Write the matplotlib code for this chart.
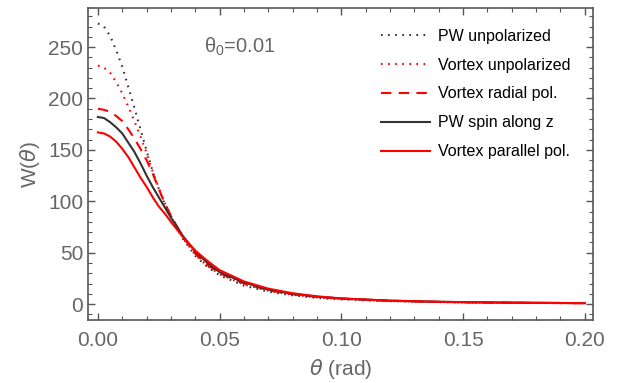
import matplotlib
matplotlib.use("Agg")
import matplotlib.pyplot as plt
from matplotlib.ticker import MultipleLocator

plt.rcParams['font.family'] = ['Liberation Sans', 'DejaVu Sans']
plt.rcParams['mathtext.fontset'] = 'dejavusans'

# angle grid (rad)
theta = [0, 0.0025, 0.005, 0.0075, 0.01, 0.0125, 0.015, 0.0175, 0.02, 0.0225,
         0.025, 0.0275, 0.03, 0.035, 0.04, 0.045, 0.05, 0.06, 0.07, 0.08,
         0.09, 0.1, 0.12, 0.14, 0.16, 0.18, 0.2]

pw_unpol = [273, 270, 261, 247, 231, 211, 191, 170, 149, 129,
            112, 97, 85, 63, 47, 36, 28, 18, 12, 8.5,
            6, 4.5, 2.8, 1.9, 1.3, 1.0, 0.8]
vortex_unpol = [232, 230, 225, 216, 205, 192, 178, 163, 147, 129,
                113, 98, 86, 64, 48, 37, 29, 19, 13, 9,
                6.5, 5, 3, 2, 1.4, 1.1, 0.9]
vortex_radial = [190, 189, 187, 183, 178, 170, 161, 151, 140, 127,
                 112, 98, 86, 65, 49, 38, 30, 20, 13.5, 9.5,
                 7, 5.2, 3.2, 2.1, 1.5, 1.1, 0.9]
pw_spin_z = [182, 181, 177, 172, 166, 157, 148, 137, 125, 114,
             104, 94, 84, 66, 51, 40, 31, 21, 14, 10,
             7.2, 5.4, 3.3, 2.2, 1.6, 1.2, 0.9]
vortex_parallel = [167, 166, 163, 158, 151, 143, 133, 123, 114, 104,
                   95, 88, 80, 65, 52, 42, 33, 22, 15, 10.5,
                   7.5, 5.5, 3.3, 2.2, 1.6, 1.2, 0.9]

grey = "#666666"
red = "#ff0000"
dark = "#333333"

fig = plt.figure(figsize=(6.28, 3.83), dpi=100)
ax = fig.add_axes([0.140, 0.1645, 0.804, 0.8145])

ax.plot(theta, pw_unpol, color=dark, lw=1.5, dashes=(0.8, 2.6), label="PW unpolarized")
ax.plot(theta, vortex_unpol, color=red, lw=1.5, dashes=(0.8, 2.6), label="Vortex unpolarized")
ax.plot(theta, vortex_radial, color=red, lw=1.5, dashes=(5, 3.5), label="Vortex radial pol.")
ax.plot(theta, pw_spin_z, color=dark, lw=1.5, label="PW spin along z")
ax.plot(theta, vortex_parallel, color=red, lw=1.5, label="Vortex parallel pol.")

ax.set_xlim(-0.0041, 0.2033)
ax.set_ylim(-15.5, 288)
ax.xaxis.set_major_locator(MultipleLocator(0.05))
ax.xaxis.set_minor_locator(MultipleLocator(0.01))
ax.yaxis.set_major_locator(MultipleLocator(50))
ax.yaxis.set_minor_locator(MultipleLocator(10))
ax.xaxis.set_major_formatter(matplotlib.ticker.FormatStrFormatter('%.2f'))

ax.tick_params(which='both', direction='in', top=True, right=True, colors="#555555",
               labelcolor=grey, labelsize=15)
ax.tick_params(which='major', length=5, width=1)
ax.tick_params(which='minor', length=3, width=0.8)
ax.tick_params(axis='x', pad=8)
for s in ax.spines.values():
    s.set_color("#555555")
    s.set_linewidth(1.2)

ax.set_xlabel(r"$\theta$ (rad)", color=grey, fontsize=15, labelpad=5)
ax.set_ylabel(r"W($\theta$)", color=grey, fontsize=15, labelpad=4)

ax.text(0.0435, 250, r"$\mathregular{\theta_0}$=0.01", color=grey, fontsize=14.5, va='center')

leg = ax.legend(loc='upper right', bbox_to_anchor=(0.985, 0.98), frameon=False, fontsize=11.5,
                handlelength=3.1, handletextpad=0.5, labelspacing=0.87)
for t in leg.get_texts():
    t.set_color("black")

fig.savefig("out.png", dpi=100)
